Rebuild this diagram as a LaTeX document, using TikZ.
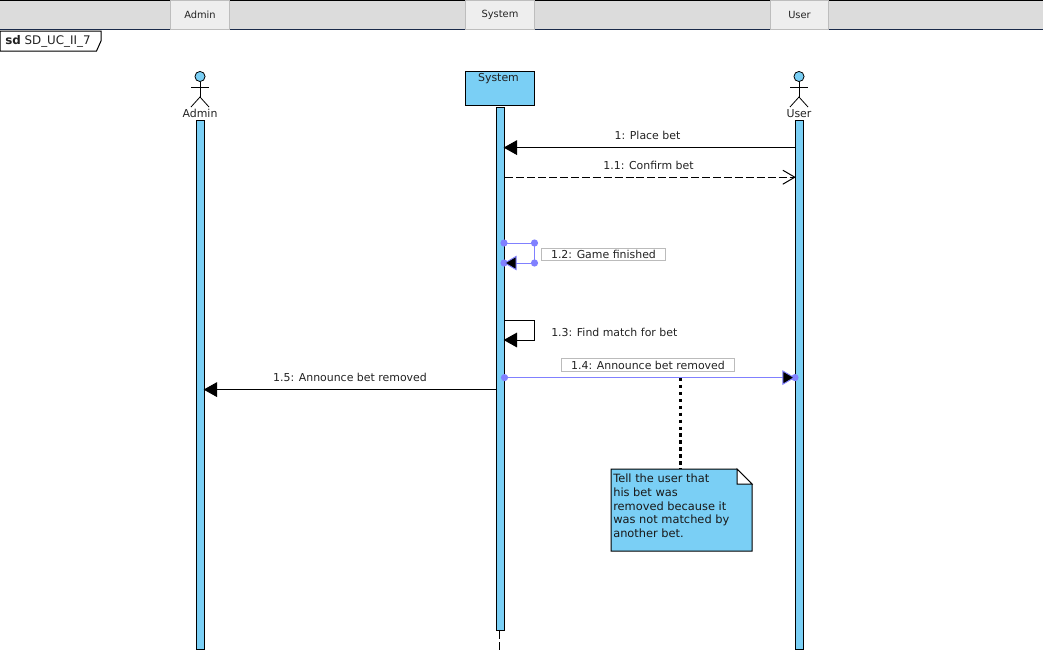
\documentclass[tikz,border=0pt]{standalone}
\usepackage{fontspec}
\setmainfont{DejaVu Sans}
\usetikzlibrary{arrows.meta}
\definecolor{lifeblue}{HTML}{7ACFF5}
\definecolor{handleblue}{HTML}{8080FF}
\definecolor{bandgray}{HTML}{DCDCDC}
\definecolor{tabgray}{HTML}{EEEEEE}
\definecolor{tabedge}{HTML}{BDBDBD}
\definecolor{labeledge}{HTML}{BBBBBB}
\definecolor{inktext}{HTML}{222222}
\definecolor{bandline}{HTML}{1A2A4A}
\tikzset{
  labeltext/.style={inner sep=0pt,text=inktext,font=\fontsize{8.2}{10.2}\selectfont},
  tabbox/.style={draw=tabedge,fill=tabgray,line width=0.75pt,minimum width=44.5pt,minimum height=21.4pt,inner sep=0pt,text=inktext,font=\fontsize{7.4}{9}\selectfont},
  lifebar/.style={draw=black,fill=lifeblue,line width=0.75pt,minimum width=6.4pt,inner sep=0pt,anchor=north},
  actorbody/.style={line width=0.6pt},
  msgline/.style={line width=0.75pt,-{Triangle[length=10pt,width=11pt]},shorten >=-1.2pt},
  replyline/.style={line width=0.75pt,dash pattern=on 6pt off 2.2pt,-{Straight Barb[length=9pt,width=10.5pt,line width=0.75pt]},shorten >=-0.8pt},
  selline/.style={draw=handleblue,line width=0.7pt},
  seltip/.style={selline,-{Triangle[length=9.5pt,width=11pt,fill=black]}},
  handle/.style={circle,fill=handleblue,minimum size=5.4pt,inner sep=0pt},
  selbox/.style={labeltext,draw=labeledge,line width=0.75pt,minimum height=9.6pt},
}
\begin{document}
\begin{tikzpicture}[x=0.75pt,y=0.75pt,yscale=-1,xscale=1]
    \useasboundingbox (0,0) rectangle (1043,668);
    % tab band
    \fill [bandgray] (0,0) rectangle (1043,29);
    \draw [line width=0.75pt] (0,0.5) -- (1043,0.5);
    \draw [line width=1pt,bandline] (0,29.5) -- (1043,29.5);
    \node (tabadmin) [tabbox] at (200,15) {Admin};
    \node (tabsystem) [tabbox,minimum width=51.5pt] at (500,15) {System};
    \node (tabuser) [tabbox,minimum width=44pt] at (799.5,15) {User};
    % frame tag
    \draw [line width=0.75pt,fill=white] (0,31) -- (101,31) -- (101,41) -- (96.5,51) -- (0,51) -- cycle;
    \node (frametag) [labeltext,anchor=west,font=\fontsize{8.9}{10.2}\selectfont] at (5,41.5) {\textbf{sd} SD\_UC\_II\_7};
    % lifelines
    \node (adminbar) [lifebar,minimum height=397pt] at (200.5,120) {};
    \node (systembar) [lifebar,minimum height=392.6pt] at (500.5,107) {};
    \node (userbar) [lifebar,minimum height=397pt] at (799.5,120) {};
    \node (systemhead) [draw,fill=lifeblue,line width=0.75pt,minimum width=52.2pt,minimum height=26.2pt,inner sep=0pt] at (499.8,88.5) {};
    \node (systemname) [labeltext] at (498.5,78.5) {System};
    \coordinate (systemend) at (499,631);
    \coordinate (systemtail) at (499,651);
    \draw [line width=0.6pt,dash pattern=on 6pt off 2.5pt] (systemend) -- (systemtail);
    % actors
    \foreach \actorname/\actorx in {Admin/200,User/799}{
      \node (head\actorname) [circle,draw,fill=lifeblue,line width=0.6pt,minimum size=7.6pt,inner sep=0pt] at (\actorx,76.5) {};
      \coordinate (hip\actorname) at (\actorx,97);
      \draw [actorbody] (head\actorname.south) -- (hip\actorname);
      \draw [actorbody] (\actorx-9,87.5) -- (\actorx+9,87.5);
      \draw [actorbody] (\actorx-9,107) -- (hip\actorname) -- (\actorx+9,107);
      \node (name\actorname) [labeltext] at (\actorx,113.5) {\actorname};
    }
    % message heights
    \coordinate (place) at (0,147.6);
    \coordinate (confirm) at (0,177.2);
    \coordinate (match) at (0,340);
    \coordinate (matchtop) at (0,320.6);
    \coordinate (announce) at (0,377.6);
    \coordinate (removed) at (0,389.6);
    % messages
    \draw [msgline] (userbar.west |- place) -- (systembar.east |- place);
    \node (placelabel) [labeltext] at (647.5,135) {1: Place bet};
    \draw [replyline] (systembar.east |- confirm) -- (userbar.west |- confirm);
    \node (confirmlabel) [labeltext] at (648.5,165) {1.1: Confirm bet};
    % selected self message
    \node (gameA) [handle] at (504,243) {};
    \node (gameB) [handle] at (534.5,243) {};
    \node (gameC) [handle] at (534.5,263) {};
    \node (gameD) [handle] at (504,263) {};
    \draw [selline] (gameA.center) -- (gameB.center) -- (gameC.center);
    \draw [seltip] (gameC.center) -- (gameD.center);
    \node (gamelabel) [selbox,minimum width=93.4pt] at (603.5,254.5) {1.2: Game finished};
    % self message
    \draw [msgline] (systembar.east |- matchtop) -- (534.5,320.6) -- (534.5,340) -- (systembar.east |- match);
    \node (matchlabel) [labeltext,anchor=west] at (551,332) {1.3: Find match for bet};
    % selected message
    \node (announceA) [handle] at (504.5,377.6) {};
    \node (announceB) [handle] at (795,377.6) {};
    \draw [seltip] (announceA.center) -- (announceB.center);
    \node (announcelabel) [selbox,minimum width=130pt] at (648,365) {1.4: Announce bet removed};
    \draw [msgline] (systembar.west |- removed) -- (adminbar.east |- removed);
    \node (removedlabel) [labeltext] at (350,377.5) {1.5: Announce bet removed};
    % note
    \draw [line width=0.75pt,fill=lifeblue] (611,469) -- (737,469) -- (752,484) -- (752,551) -- (611,551) -- cycle;
    \draw [line width=0.75pt,fill=white] (737,469) -- (737,484) -- (752,484) -- cycle;
    \node (note) [labeltext,anchor=north west,align=left,text=black!90,font=\fontsize{8.55}{10.2}\selectfont] at (613,474) {Tell the user that\\his bet was\\removed because it\\was not matched by\\another bet.};
    \coordinate (notefoot) at (680,378);
    \coordinate (notetop) at (680,469);
    \draw [line width=2.25pt,dash pattern=on 2.6pt off 2.6pt] (notefoot) -- (notetop);
\end{tikzpicture}
\end{document}
